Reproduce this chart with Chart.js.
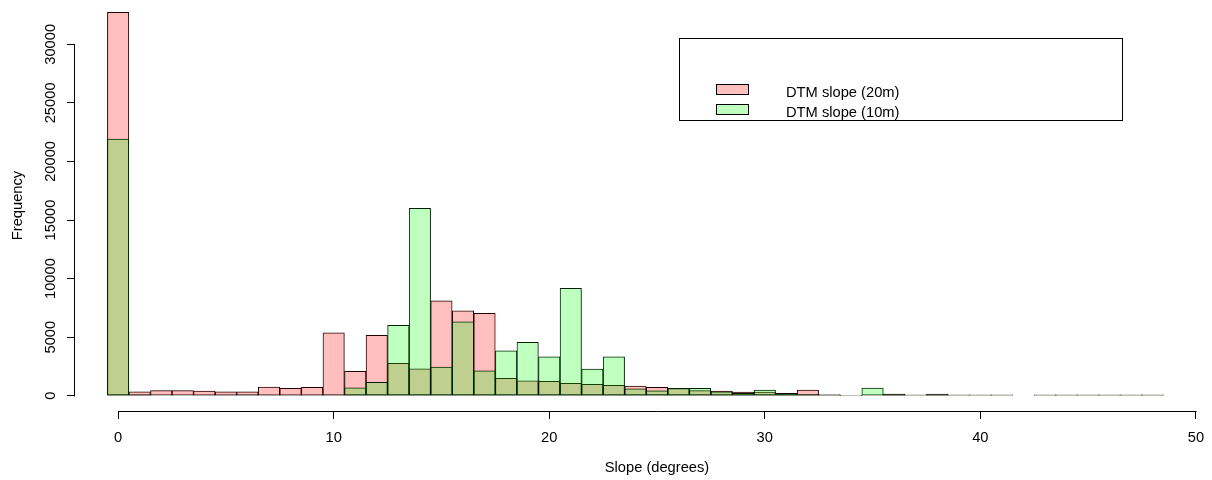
<!DOCTYPE html>
<html>
<head>
<meta charset="utf-8">
<script src="https://cdn.jsdelivr.net/npm/chart.js@4/dist/chart.umd.min.js"></script>
<style>
  html, body { margin: 0; padding: 0; background: #fff; overflow: hidden; }
  canvas { display: block; }
</style>
</head>
<body>
<canvas id="hist" width="1239" height="480"></canvas>
<script>
// Slope histogram: one-degree bins, centred on whole degrees
const slopeBins = [
  0, 1, 2, 3, 4, 5, 6, 7, 8, 9,
  10, 11, 12, 13, 14, 15, 16, 17, 18, 19,
  20, 21, 22, 23, 24, 25, 26, 27, 28, 29,
  30, 31, 32, 33, 34, 35, 36, 37, 38, 39,
  40, 41, 42, 43, 44, 45, 46, 47, 48
];
// Cell counts per bin, 20 m DTM
const freq20m = [
  32730, 330, 440, 440, 400, 340, 340, 740, 630, 720,
  5380, 2080, 5160, 2760, 2310, 8110, 7260, 7030, 1480, 1280,
  1230, 1060, 970, 890, 830, 720, 620, 440, 400, 320,
  320, 200, 490, 110, 30, 40, 150, 80, 140, 80,
  80, 80, 0, 80, 80, 80, 80, 80, 80
];
// Cell counts per bin, 10 m DTM
const freq10m = [
  21920, 110, 50, 50, 60, 70, 80, 60, 60, 70,
  90, 680, 1140, 6020, 16000, 2450, 6320, 2140, 3840, 4560,
  3330, 9170, 2280, 3330, 600, 430, 640, 630, 340, 200,
  490, 180, 120, 90, 20, 660, 120, 70, 110, 70,
  70, 70, 0, 70, 70, 70, 70, 70, 70
];
const seriesLabels = ['DTM slope (20m)', 'DTM slope (10m)'];
const xTicks = [0, 10, 20, 30, 40, 50];
const yTicks = [0, 5000, 10000, 15000, 20000, 25000, 30000];

const FONT = '"Liberation Sans", Arial, sans-serif';
const FONT_SIZE = 14.7;
Chart.defaults.font.family = FONT;
Chart.defaults.font.size = FONT_SIZE;
Chart.defaults.color = '#000';

// Axis lines that only run between the first and last tick, base-graphics style
const tickSpanAxes = {
  id: 'tickSpanAxes',
  afterDatasetsDraw(chart) {
    const { ctx, chartArea, scales: { x, y } } = chart;
    ctx.save();
    ctx.strokeStyle = '#000';
    ctx.lineWidth = 1;
    ctx.beginPath();
    const yb = Math.round(chartArea.bottom) + 0.5;
    ctx.moveTo(Math.round(x.getPixelForValue(xTicks[0])) + 0.5, yb);
    ctx.lineTo(Math.round(x.getPixelForValue(xTicks[xTicks.length - 1])) + 0.5, yb);
    const xl = Math.round(chartArea.left) - 0.5;
    ctx.moveTo(xl, Math.round(y.getPixelForValue(yTicks[0])) + 0.5);
    ctx.lineTo(xl, Math.round(y.getPixelForValue(yTicks[yTicks.length - 1])) + 0.5);
    ctx.stroke();
    ctx.restore();
  }
};

// Boxed legend placed inside the plotting region
const boxedLegend = {
  id: 'boxedLegend',
  afterDraw(chart, args, opts) {
    const { ctx } = chart;
    ctx.save();
    ctx.lineWidth = 1;
    ctx.strokeStyle = '#000';
    ctx.fillStyle = '#fff';
    ctx.fillRect(opts.box[0], opts.box[1], opts.box[2], opts.box[3]);
    ctx.strokeRect(opts.box[0] + 0.5, opts.box[1] + 0.5, opts.box[2], opts.box[3]);
    ctx.font = FONT_SIZE + 'px ' + FONT;
    ctx.textBaseline = 'alphabetic';
    ctx.textAlign = 'left';
    chart.data.datasets.forEach((ds, i) => {
      const top = opts.firstTop + i * opts.rowGap;
      ctx.fillStyle = ds.backgroundColor;
      ctx.fillRect(opts.swatchX, top, opts.swatchW, opts.swatchH);
      ctx.strokeStyle = '#000';
      ctx.strokeRect(opts.swatchX + 0.5, top + 0.5, opts.swatchW, opts.swatchH);
      ctx.fillStyle = '#000';
      ctx.fillText(ds.label, opts.textX, opts.firstBaseline + i * opts.rowGap);
    });
    ctx.restore();
  }
};

const toPoints = (vals) => slopeBins.map((b, i) => ({ x: b, y: vals[i] }));

const barStyle = {
  borderColor: '#000',
  borderWidth: 0.5,
  inflateAmount: 0.25,
  borderSkipped: false,
  barPercentage: 1,
  categoryPercentage: 1,
  grouped: false
};

new Chart(document.getElementById('hist'), {
  type: 'bar',
  data: {
    datasets: [
      Object.assign({
        label: seriesLabels[0],
        data: toPoints(freq20m),
        backgroundColor: 'rgba(255,0,0,0.25)',
        order: 1
      }, barStyle),
      Object.assign({
        label: seriesLabels[1],
        data: toPoints(freq10m),
        backgroundColor: 'rgba(0,255,0,0.25)',
        order: 0
      }, barStyle)
    ]
  },
  options: {
    responsive: false,
    devicePixelRatio: 1,
    animation: false,
    events: [],
    layout: { padding: 0 },
    plugins: {
      legend: { display: false },
      tooltip: { enabled: false },
      boxedLegend: {
        box: [679, 38, 443, 82],
        swatchX: 716, swatchW: 32, swatchH: 10,
        firstTop: 84, rowGap: 20,
        textX: 786, firstBaseline: 96.5
      }
    },
    scales: {
      x: {
        type: 'linear',
        offset: false,
        min: -2,
        max: 52,
        afterBuildTicks: (s) => { s.ticks = xTicks.map(v => ({ value: v })); },
        afterFit: (s) => { s.height = 69; s.paddingLeft = 0; s.paddingRight = 0; },
        grid: { offset: false, drawOnChartArea: false, drawTicks: true, tickLength: 8, color: '#000', lineWidth: 1 },
        border: { display: false },
        ticks: { autoSkip: false, maxRotation: 0, padding: 10, callback: (v) => String(v) },
        title: { display: true, text: 'Slope (degrees)', padding: { top: 0, bottom: 3 } }
      },
      y: {
        type: 'linear',
        min: -1306,
        max: 33783,
        afterBuildTicks: (s) => { s.ticks = yTicks.map(v => ({ value: v })); },
        afterFit: (s) => { s.width = 75; s.paddingTop = 0; s.paddingBottom = 0; },
        grid: { drawOnChartArea: false, drawTicks: true, tickLength: 8, color: '#000', lineWidth: 1 },
        border: { display: false },
        ticks: { autoSkip: false, minRotation: 90, maxRotation: 90, crossAlign: 'center', padding: -4, callback: (v) => String(v) },
        title: { display: true, text: 'Frequency', padding: { top: 9.2, bottom: 0 } }
      }
    }
  },
  plugins: [tickSpanAxes, boxedLegend]
});
</script>
</body>
</html>
